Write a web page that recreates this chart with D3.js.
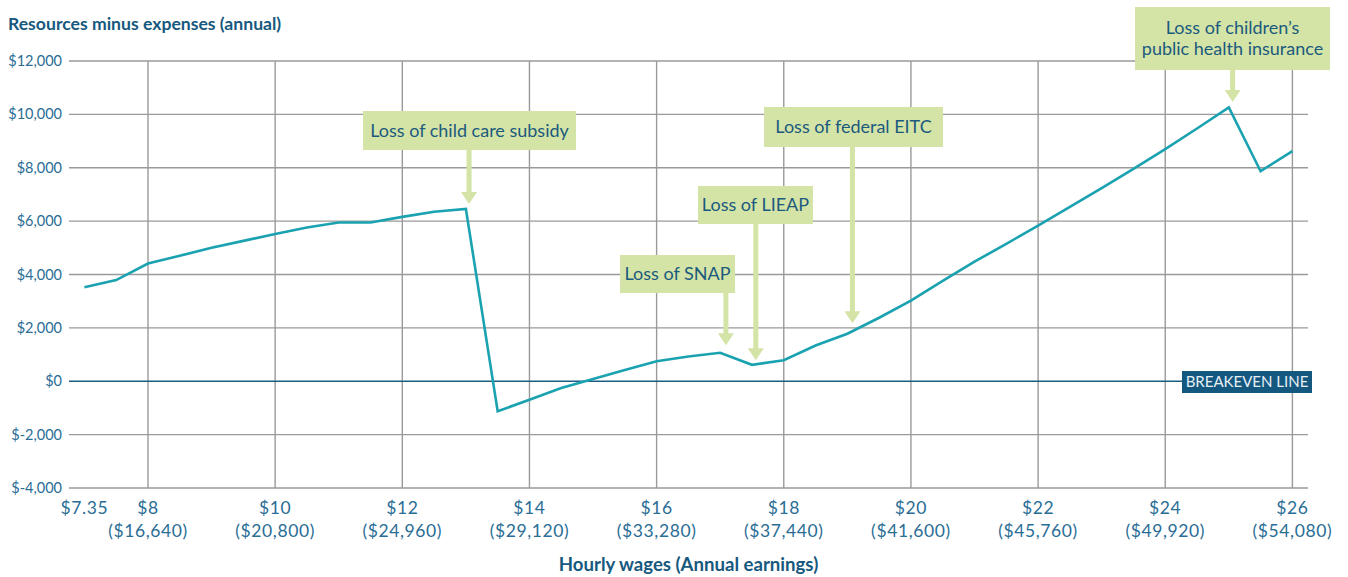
<!DOCTYPE html>
<html>
<head>
<meta charset="utf-8">
<script src="https://cdn.jsdelivr.net/npm/d3@7/dist/d3.min.js"></script>
<style>
  html, body { margin: 0; padding: 0; background: #ffffff; }
  svg { display: block; }
  text { font-family: Lato, "Open Sans", sans-serif; }
</style>
</head>
<body>
<svg id="chart" width="1348" height="577"></svg>
<script>
// ---------- DATA ----------
const wages = [7.35, 7.5, 8, 8.5, 9, 9.5, 10, 10.5, 11, 11.5, 12, 12.5, 13, 13.5, 14, 14.5, 15, 15.5, 16, 16.5,
               17, 17.5, 18, 18.5, 19, 19.5, 20, 20.5, 21, 21.5, 22, 22.5, 23, 23.5, 24, 24.5, 25, 25.5, 26];
const resourcesMinusExpenses = [3520, 3790, 4410, 4700, 5000, 5260, 5520, 5760, 5950, 5950, 6160, 6350, 6460, -1125, -690, -250, 80, 420, 750, 930,
               1065, 615, 790, 1340, 1780, 2380, 3025, 3760, 4480, 5150, 5830, 6530, 7240, 7960, 8700, 9470, 10260, 7870, 8620];
const xTickWages = [7.35, 8, 10, 12, 14, 16, 18, 20, 22, 24, 26];
const xTickHourly = ["$7.35", "$8", "$10", "$12", "$14", "$16", "$18", "$20", "$22", "$24", "$26"];
const xTickAnnual = ["", "($16,640)", "($20,800)", "($24,960)", "($29,120)", "($33,280)", "($37,440)", "($41,600)", "($45,760)", "($49,920)", "($54,080)"];
const gridWages = [8, 10, 12, 14, 16, 18, 20, 22, 24, 26];
const yTicks = [-4000, -2000, 0, 2000, 4000, 6000, 8000, 10000, 12000];
const annotationLabels = [["Loss of child care subsidy"], ["Loss of SNAP"], ["Loss of LIEAP"], ["Loss of federal EITC"], ["Loss of children\u2019s", "public health insurance"]];
const annotationWages = [13.05, 17.09, 17.56, 19.08, 25.06];
const annotationTipValues = [6640, 1350, 790, 2175, 10460];

// ---------- LAYOUT ----------
const W = 1348, H = 577;
const plot = { left: 69, right: 1308, top: 61, bottom: 488 };
const boxLayout = [
  { x0: 363, y0: 111, x1: 576, y1: 150 },
  { x0: 620, y0: 255, x1: 735, y1: 293 },
  { x0: 698, y0: 186, x1: 813, y1: 224 },
  { x0: 764, y0: 107, x1: 943, y1: 147 },
  { x0: 1135, y0: 7, x1: 1330, y1: 70 }
];
const C = {
  grid: "#9a9a9a",
  zero: "#1d5d84",
  line: "#1ba2b0",
  tick: "#2a6d95",
  title: "#17587e",
  note: "#d4e4a6",
  noteText: "#1b5a7e",
  breakBg: "#14577f",
  breakText: "#e6f0f5"
};

const svg = d3.select("#chart");

const x = d3.scalePoint().domain(wages).range([84.4, 1292.4]);
const xLin = d3.scaleLinear().domain([8, 26]).range([x(8), x(26)]);
const y = d3.scaleLinear().domain([-4000, 12000]).range([plot.bottom, plot.top]);

// Title
svg.append("text")
  .attr("x", 8).attr("y", 30)
  .attr("fill", C.title)
  .style("font-size", "17.6px").style("font-weight", "bold")
  .text("Resources minus expenses (annual)");

// Horizontal gridlines
const gridG = svg.append("g");
gridG.selectAll("line.h").data(yTicks.filter(d => d !== 0)).join("line")
  .attr("x1", plot.left).attr("x2", plot.right)
  .attr("y1", d => y(d)).attr("y2", d => y(d))
  .attr("stroke", C.grid).attr("stroke-width", 1.4);

// Vertical gridlines
gridG.selectAll("line.v").data(gridWages).join("line")
  .attr("x1", d => x(d)).attr("x2", d => x(d))
  .attr("y1", plot.top).attr("y2", plot.bottom)
  .attr("stroke", C.grid).attr("stroke-width", 1.4);

// Zero (breakeven) line
svg.append("line")
  .attr("x1", plot.left).attr("x2", 1190)
  .attr("y1", y(0)).attr("y2", y(0))
  .attr("stroke", C.zero).attr("stroke-width", 1.6);

// Y axis labels
svg.append("g").selectAll("text").data(yTicks).join("text")
  .attr("x", 62).attr("y", d => y(d))
  .attr("dy", "0.35em")
  .attr("text-anchor", "end")
  .attr("fill", C.tick)
  .style("font-size", "14.5px")
  .text(d => (d < 0 ? "$-" : "$") + d3.format(",")(Math.abs(d)));

// X axis labels
const xl = svg.append("g");
xl.selectAll("text.h").data(xTickWages).join("text")
  .attr("x", d => x(d)).attr("y", 514)
  .attr("text-anchor", "middle")
  .attr("fill", C.tick)
  .style("font-size", "17.5px")
  .style("letter-spacing", "0.6px")
  .text((d, i) => xTickHourly[i]);
xl.selectAll("text.a").data(xTickWages).join("text")
  .attr("x", d => x(d)).attr("y", 537)
  .attr("text-anchor", "middle")
  .attr("fill", C.tick)
  .style("font-size", "17.5px")
  .style("letter-spacing", "0.6px")
  .text((d, i) => xTickAnnual[i]);

// X axis title
svg.append("text")
  .attr("x", (plot.left + plot.right) / 2).attr("y", 571)
  .attr("text-anchor", "middle")
  .attr("fill", C.title)
  .style("font-size", "18.6px").style("font-weight", "bold")
  .text("Hourly wages (Annual earnings)");

// Data line
const pts = wages.map((w, i) => [w, resourcesMinusExpenses[i]]);
svg.append("path")
  .datum(pts)
  .attr("fill", "none")
  .attr("stroke", C.line)
  .attr("stroke-width", 2.6)
  .attr("stroke-linejoin", "miter")
  .attr("d", d3.line().x(d => x(d[0])).y(d => y(d[1])));

// Breakeven label
const bk = svg.append("g");
bk.append("rect").attr("x", 1182).attr("y", 371).attr("width", 130).attr("height", 22).attr("fill", C.breakBg);
bk.append("text").attr("x", 1247).attr("y", 382).attr("dy", "0.36em")
  .attr("text-anchor", "middle").attr("fill", C.breakText)
  .style("font-size", "15px").text("BREAKEVEN LINE");

// Annotations
const ann = svg.append("g");
annotationLabels.forEach((lines, i) => {
  const b = boxLayout[i];
  const ax = xLin(annotationWages[i]);
  const tipY = y(annotationTipValues[i]);
  const headH = 12, headW = 16, shaft = 5;
  ann.append("rect")
    .attr("x", ax - shaft / 2).attr("y", b.y1)
    .attr("width", shaft).attr("height", Math.max(0, tipY - headH - b.y1 + 1))
    .attr("fill", C.note);
  ann.append("path")
    .attr("d", `M${ax - headW / 2},${tipY - headH} L${ax + headW / 2},${tipY - headH} L${ax},${tipY} Z`)
    .attr("fill", C.note);
  ann.append("rect")
    .attr("x", b.x0).attr("y", b.y0).attr("width", b.x1 - b.x0).attr("height", b.y1 - b.y0)
    .attr("fill", C.note);
  const cx = (b.x0 + b.x1) / 2, cy = (b.y0 + b.y1) / 2;
  const lh = 21;
  lines.forEach((t, j) => {
    ann.append("text")
      .attr("x", cx).attr("y", cy + (j - (lines.length - 1) / 2) * lh)
      .attr("dy", "0.35em")
      .attr("text-anchor", "middle")
      .attr("fill", C.noteText)
      .style("font-size", "18px")
      .text(t);
  });
});
</script>
</body>
</html>
